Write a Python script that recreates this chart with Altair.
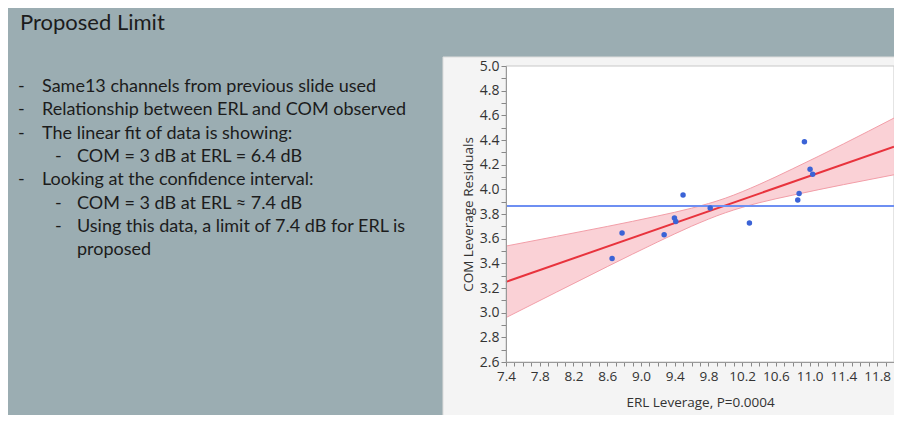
import altair as alt
import pandas as pd

# ---------------- data ----------------
erl = [8.658, 8.776, 9.275, 9.397, 9.413, 9.499, 9.821, 10.286, 10.859, 10.875, 10.938, 11.005, 11.036]
com = [3.44, 3.646, 3.632, 3.767, 3.74, 3.954, 3.848, 3.727, 3.913, 3.967, 4.386, 4.162, 4.122]

mean_com = [3.865]

fit_x = [7.4, 12.0]
fit_y = [3.25, 4.346]

band_x = [7.4, 8.0, 8.6, 9.2, 9.6, 10.0, 10.4, 10.8, 11.4, 12.0]
band_lo = [2.96, 3.167, 3.373, 3.574, 3.701, 3.810, 3.891, 3.953, 4.038, 4.118]
band_hi = [3.54, 3.619, 3.699, 3.784, 3.847, 3.928, 4.039, 4.167, 4.368, 4.578]

slide_title = "Proposed Limit"
bullet_lines = [
    "Same13 channels from previous slide used",
    "Relationship between ERL and COM observed",
    "The linear fit of data is showing:",
    "COM = 3 dB at ERL = 6.4 dB",
    "Looking at the confidence interval:",
    "COM = 3 dB at ERL \u2248 7.4 dB",
    "Using this data, a limit of 7.4 dB for ERL is",
    "proposed",
]
bullet_levels = [1, 1, 1, 2, 1, 2, 2, 2]
bullet_dash = [True, True, True, True, True, True, True, False]

x_title = "ERL Leverage, P=0.0004"
y_title = "COM Leverage Residuals"

# ---------------- layout ----------------
W, H = 388, 296
PAD = {"left": 498, "top": 58, "right": 0, "bottom": 53}
SLIDE_BG = "#9badb2"
PANEL_BG = "#f4f4f4"
TEXT_FONT = "Lato"
AX_FONT = "Open Sans"

pts = pd.DataFrame({"erl": erl, "com": com})
fit = pd.DataFrame({"erl": fit_x, "com": fit_y})
band = pd.DataFrame({"erl": band_x, "lo": band_lo, "hi": band_hi})
mean_df = pd.DataFrame({"com": mean_com})
one = pd.DataFrame({"k": [0]})

xscale = alt.Scale(domain=[7.4, 12.0], nice=False, zero=False)
yscale = alt.Scale(domain=[2.6, 5.0], nice=False, zero=False)

x_ticks = [round(7.4 + 0.1 * i, 1) for i in range(47)]
y_ticks = [round(2.6 + 0.1 * i, 1) for i in range(25)]

x_axis = alt.Axis(
    values=x_ticks, title=x_title, grid=False, zindex=1,
    labelExpr="round((datum.value - 7.4) * 10) % 4 == 0 ? format(datum.value, '.1f') : ''",
    labelOverlap=False, labelFlush=False, tickSize=4, tickColor="#888", domainColor="#999",
    labelFont=AX_FONT, labelFontSize=13.5, labelColor="#333", labelPadding=3,
    titleFont=AX_FONT, titleFontSize=13.5, titleColor="#333", titleFontWeight="normal",
    titleY=40, titleBaseline="middle",
)
y_axis = alt.Axis(
    values=y_ticks, title=y_title, grid=False, zindex=1,
    labelExpr="round(datum.value * 10) % 2 == 0 ? format(datum.value, '.1f') : ''",
    labelOverlap=False, labelFlush=False, tickSize=5, tickColor="#888", domainColor="#999",
    labelFont=AX_FONT, labelFontSize=14, labelColor="#333", labelPadding=2,
    titleFont=AX_FONT, titleFontSize=13.5, titleColor="#333", titleFontWeight="normal",
    titleX=-38, titleY=H / 2, titleAlign="center", titleBaseline="middle", titleAngle=-90,
)

X = alt.X("erl:Q", scale=xscale, axis=x_axis)

panel = alt.Chart(one).mark_rect(color=PANEL_BG, stroke="#dcdcdc").encode(
    x=alt.value(-63), x2=alt.value(W + 10),
    y=alt.value(-9), y2=alt.value(H + PAD["bottom"] + 10),
)
plotbg = alt.Chart(one).mark_rect(color="white", stroke="#c8c8c8").encode(
    x=alt.value(0), x2=alt.value(W), y=alt.value(0), y2=alt.value(H),
)

band_area = alt.Chart(band).mark_area(color="#f9ccd1", opacity=0.9, interpolate="monotone").encode(
    x=X, y=alt.Y("lo:Q", scale=yscale, axis=y_axis), y2="hi:Q",
)
band_lo_line = alt.Chart(band).mark_line(color="#f29ea8", strokeWidth=1, interpolate="monotone").encode(
    x=X, y=alt.Y("lo:Q", scale=yscale, axis=y_axis)
)
band_hi_line = alt.Chart(band).mark_line(color="#f29ea8", strokeWidth=1, interpolate="monotone").encode(
    x=X, y=alt.Y("hi:Q", scale=yscale, axis=y_axis)
)
fit_line = alt.Chart(fit).mark_line(color="#e8333d", strokeWidth=2).encode(
    x=X, y=alt.Y("com:Q", scale=yscale, axis=y_axis)
)
mean_rule = alt.Chart(mean_df).mark_rule(color="#6e8ff2", strokeWidth=2).encode(
    y=alt.Y("com:Q", scale=yscale, axis=y_axis)
)
points = alt.Chart(pts).mark_circle(color="#3b63d6", opacity=1, size=30).encode(
    x=X, y=alt.Y("com:Q", scale=yscale, axis=y_axis)
)

layers = [panel, plotbg, band_area, band_lo_line, band_hi_line, fit_line, mean_rule, points]

# slide title
layers.append(
    alt.Chart(pd.DataFrame({"t": [slide_title]})).mark_text(
        align="left", baseline="alphabetic", font=TEXT_FONT, fontSize=22, color="#1c1c1c"
    ).encode(text="t:N", x=alt.value(-486), y=alt.value(-36))
)

# bullet list
dash_x = {1: -488, 2: -451}
text_x = {1: -464, 2: -429}
for i, (line, lvl, dash) in enumerate(zip(bullet_lines, bullet_levels, bullet_dash)):
    yy = 26 + i * 23.3
    layers.append(
        alt.Chart(pd.DataFrame({"t": [line]})).mark_text(
            align="left", baseline="alphabetic", font=TEXT_FONT, fontSize=18, color="#1c1c1c"
        ).encode(text="t:N", x=alt.value(text_x[lvl]), y=alt.value(yy))
    )
    if dash:
        layers.append(
            alt.Chart(pd.DataFrame({"t": ["-"]})).mark_text(
                align="left", baseline="alphabetic", font=TEXT_FONT, fontSize=18, color="#1c1c1c"
            ).encode(text="t:N", x=alt.value(dash_x[lvl]), y=alt.value(yy))
        )

chart = alt.layer(*layers).properties(
    width=W, height=H, autosize=alt.AutoSizeParams(type="none"), padding=PAD,
    background=SLIDE_BG,
).configure_view(stroke=None, fill=None).configure_axis(labelOverlap=False)

chart.save("out.html", embed_options={"renderer": "svg", "actions": False})
